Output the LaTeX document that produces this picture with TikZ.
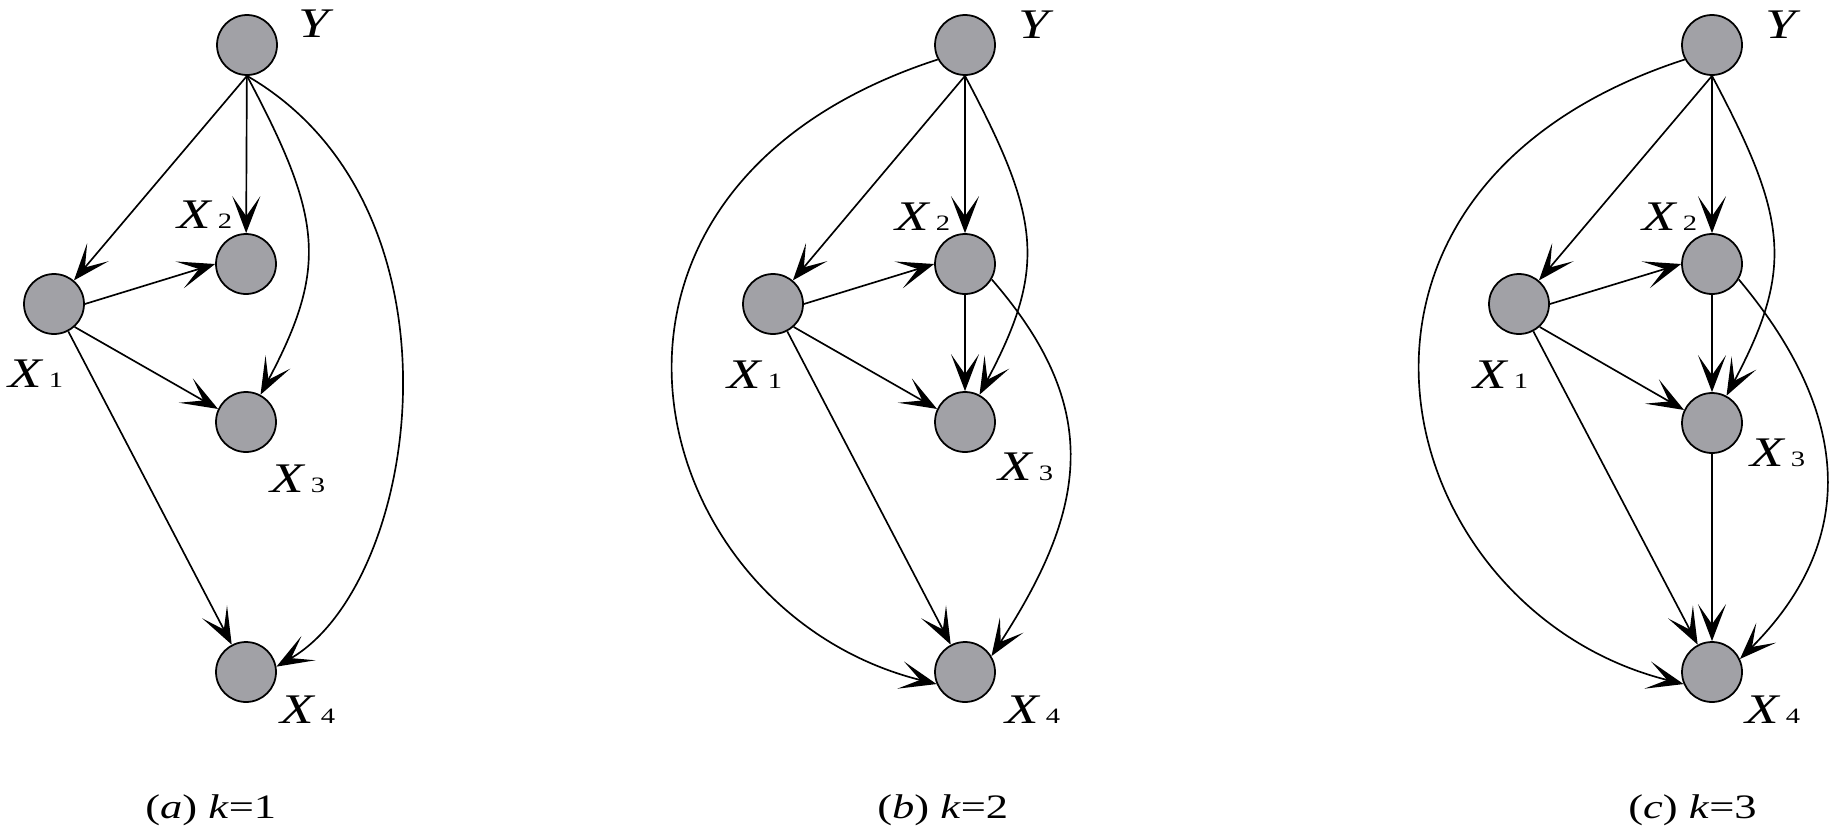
\documentclass[tikz,border=0pt]{standalone}
\usepackage{fontspec}
\newfontfamily\figfont{Liberation Serif}[FakeStretch=1.3]
\usepackage{tikz}
\usetikzlibrary{arrows.meta}
\definecolor{nodegray}{RGB}{161,161,166}
\newcommand{\xsub}[2]{{\itshape #1}\hspace{4pt}{\fontsize{12.5}{14}\selectfont #2}}

\begin{document}
\begin{tikzpicture}[x=0.02cm, y=-0.02cm,
        rv/.style={draw, circle, line width=1pt, fill=nodegray, minimum size=1.2cm, inner sep=0pt},
        link/.style={->, line width=0.95pt},
        lbl/.style={anchor=base west, inner sep=0pt, font=\figfont\fontsize{24}{28}\selectfont},
        subcap/.style={anchor=base west, inner sep=0pt, font=\figfont\fontsize{19.5}{23}\selectfont},
        >={Stealth[length=0.74cm, width=0.56cm, inset=0.4cm]}
    ]
    \useasboundingbox (0,0) rectangle (1832,832);

    % (a) k=1
    \node [rv] (Ya) at (247,45) {};
    \node [rv] (X2a) at (246,264) {};
    \node [rv] (X1a) at (54,304) {};
    \node [rv] (X3a) at (246,422) {};
    \node [rv] (X4a) at (246,672) {};
    \node [lbl] (lYa) at (298,37) {\textit{Y}};
    \node [lbl] (lX2a) at (177,228) {\xsub{X}{2}};
    \node [lbl] (lX1a) at (8,387) {\xsub{X}{1}};
    \node [lbl] (lX3a) at (270,492) {\xsub{X}{3}};
    \node [lbl] (lX4a) at (280,723) {\xsub{X}{4}};
    \node [subcap] (capa) at (145,818) {(\textit{a}) \textit{k}=1};

    \draw [link] (Ya.south) -- (X1a);
    \draw [link] (Ya) -- (X2a);
    \draw [link] (Ya.south) to[out=-62, in=62, out distance=3.2cm, in distance=2.9cm] (X3a);
    \draw [link] (Ya.south) to[out=-30, in=30, out distance=5.26cm, in distance=3.34cm] (X4a.10);
    \draw [link] (X1a.east) -- (X2a.west);
    \draw [link] (X1a.-48) -- (X3a.155);
    \draw [link] (X1a) -- (X4a);

    % (b) k=2
    \node [rv] (Yb) at (965,45) {};
    \node [rv] (X2b) at (965,264) {};
    \node [rv] (X1b) at (773,304) {};
    \node [rv] (X3b) at (965,422) {};
    \node [rv] (X4b) at (965,672) {};
    \node [lbl] (lYb) at (1018,38) {\textit{Y}};
    \node [lbl] (lX2b) at (895,230) {\xsub{X}{2}};
    \node [lbl] (lX1b) at (727,388) {\xsub{X}{1}};
    \node [lbl] (lX3b) at (998,480) {\xsub{X}{3}};
    \node [lbl] (lX4b) at (1005,723) {\xsub{X}{4}};
    \node [subcap] (capb) at (877,818) {(\textit{b}) \textit{k}=2};

    \draw [link] (Yb.south) -- (X1b);
    \draw [link] (Yb) -- (X2b);
    \draw [link] (Yb.south) to[out=-62, in=62, out distance=3.2cm, in distance=2.9cm] (X3b);
    \draw [link] (Yb.208) to[out=198, in=166, out distance=8.5cm, in distance=6.1cm] (X4b.203);
    \draw [link] (X1b.east) -- (X2b.west);
    \draw [link] (X1b.-48) -- (X3b.155);
    \draw [link] (X1b) -- (X4b);
    \draw [link] (X2b) -- (X3b);
    \draw [link] (X2b.-30) to[out=-49, in=57, out distance=3.4cm, in distance=3.54cm] (X4b.31);

    % (c) k=3
    \node [rv] (Yc) at (1712,45) {};
    \node [rv] (X2c) at (1712,264) {};
    \node [rv] (X1c) at (1519,304) {};
    \node [rv] (X3c) at (1712,423) {};
    \node [rv] (X4c) at (1712,672) {};
    \node [lbl] (lYc) at (1765,38) {\textit{Y}};
    \node [lbl] (lX2c) at (1642,230) {\xsub{X}{2}};
    \node [lbl] (lX1c) at (1473,388) {\xsub{X}{1}};
    \node [lbl] (lX3c) at (1750,466) {\xsub{X}{3}};
    \node [lbl] (lX4c) at (1745,723) {\xsub{X}{4}};
    \node [subcap] (capc) at (1628,818) {(\textit{c}) \textit{k}=3};

    \draw [link] (Yc.south) -- (X1c);
    \draw [link] (Yc) -- (X2c);
    \draw [link] (Yc.south) to[out=-62, in=62, out distance=3.2cm, in distance=2.9cm] (X3c);
    \draw [link] (Yc.208) to[out=198, in=166, out distance=8.5cm, in distance=6.1cm] (X4c.203);
    \draw [link] (X1c.east) -- (X2c.west);
    \draw [link] (X1c.-48) -- (X3c.155);
    \draw [link] (X1c) -- (X4c);
    \draw [link] (X2c) -- (X3c);
    \draw [link] (X3c) -- (X4c);
    \draw [link] (X2c.-30) to[out=-50, in=45, out distance=3.64cm, in distance=3.26cm] (X4c.25);

\end{tikzpicture}
\end{document}
